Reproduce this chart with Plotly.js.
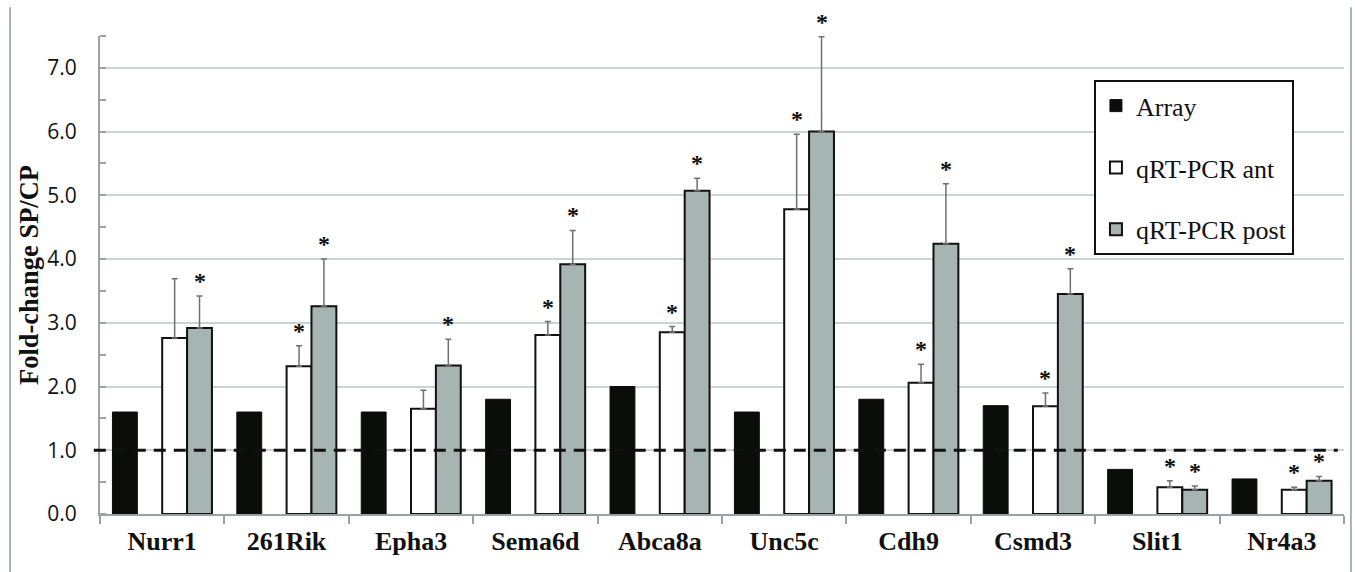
<!DOCTYPE html>
<html>
<head>
<meta charset="utf-8">
<script src="https://cdn.plot.ly/plotly-3.0.1.min.js"></script>
<style>html,body{margin:0;padding:0;background:#fff;}#chart{width:1355px;height:572px;}</style>
</head>
<body>
<div id="chart"></div>
<script>
const genes = ["Nurr1","261Rik","Epha3","Sema6d","Abca8a","Unc5c","Cdh9","Csmd3","Slit1","Nr4a3"];
const arrayVals = [1.60,1.60,1.60,1.80,2.00,1.60,1.80,1.70,0.70,0.55];
const antVals   = [2.76,2.32,1.65,2.81,2.85,4.78,2.06,1.69,0.42,0.38];
const antErr    = [0.93,0.32,0.29,0.21,0.09,1.18,0.29,0.21,0.10,0.04];
const postVals  = [2.92,3.26,2.33,3.92,5.07,6.00,4.24,3.45,0.38,0.52];
const postErr   = [0.50,0.74,0.41,0.53,0.20,1.49,0.94,0.40,0.06,0.07];
const antSig    = [0,1,0,1,1,1,1,1,1,1];
const postSig   = [1,1,1,1,1,1,1,1,1,1];
const seriesNames = ["Array","qRT-PCR ant","qRT-PCR post"];

const SERIF = 'Liberation Serif, Times New Roman, serif';
const W = 0.2;
const errStyle = {type:'data', symmetric:false, color:'#707070', thickness:1.5, width:3};
const zeros = genes.map(()=>0);

const traces = [
  {type:'bar', name:seriesNames[0], x:genes, y:arrayVals, offset:-0.4, width:W,
   marker:{color:'#0b0d0b', line:{color:'#0b0d0b', width:1}}, legendgroup:'a'},
  {type:'bar', name:seriesNames[1], x:genes, y:antVals, offset:0.0, width:W,
   marker:{color:'#ffffff', line:{color:'#111111', width:2}}, legendgroup:'b',
   error_y:Object.assign({array:antErr, arrayminus:zeros}, errStyle)},
  {type:'bar', name:seriesNames[2], x:genes, y:postVals, offset:0.2, width:W,
   marker:{color:'#a6b4b2', line:{color:'#111111', width:2}}, legendgroup:'c',
   error_y:Object.assign({array:postErr, arrayminus:zeros}, errStyle)}
];

const starFont = {family:SERIF, size:24, color:'#111', weight:'bold'};
const annotations = [];
genes.forEach((g,i)=>{
  if (antSig[i]) annotations.push({x:i+0.1, y:antVals[i]+antErr[i], xref:'x', yref:'y', text:'*', showarrow:false,
    yanchor:'bottom', yshift:0, font:starFont});
  if (postSig[i]) annotations.push({x:i+0.3, y:postVals[i]+postErr[i], xref:'x', yref:'y', text:'*', showarrow:false,
    yanchor:'bottom', yshift:0, font:starFont});
});

const shapes = [
  {type:'line', xref:'paper', yref:'y', x0:-0.005, x1:0.995, y0:1, y1:1, layer:'above',
   line:{color:'#111', width:3, dash:'12px,8px'}},
  {type:'line', xref:'paper', yref:'paper', x0:-0.0723, x1:-0.0723, y0:1.06, y1:-0.13,
   line:{color:'#8f9a9a', width:1.5}},
  {type:'line', xref:'paper', yref:'paper', x0:1.0056, x1:1.0056, y0:1.06, y1:-0.13,
   line:{color:'#8f9a9a', width:1.5}}
];

const layout = {
  width:1355, height:572,
  margin:{l:100, r:11, t:36, b:58},
  paper_bgcolor:'#fff', plot_bgcolor:'#fff',
  barmode:'overlay',
  showlegend:true,
  legend:{x:0.799, y:0.9075, xanchor:'left', yanchor:'top', bgcolor:'#fff',
    bordercolor:'#111', borderwidth:2, tracegroupgap:25, entrywidth:205,
    font:{family:SERIF, size:26, color:'#111'}},
  xaxis:{type:'category', showline:true, linecolor:'#98a4a4', linewidth:2,
    ticks:'outside', tickson:'boundaries', ticklen:8, tickcolor:'#98a4a4', tickwidth:2,
    showgrid:false, range:[-0.5, 9.5], ticklabelstandoff:3,
    tickfont:{family:SERIF, size:26, color:'#111', weight:'bold'}},
  yaxis:{range:[0,7.5], dtick:1, tick0:0, tickformat:'.1f',
    showline:true, linecolor:'#98a4a4', linewidth:2,
    ticks:'outside', ticklen:17, tickcolor:'rgba(0,0,0,0)', tickwidth:1,
    minor:{dtick:0.5, ticks:'inside', ticklen:6, tickcolor:'#98a4a4', tickwidth:2, showgrid:false},
    showgrid:true, gridcolor:'#c9d4d3', gridwidth:2, zeroline:false,
    tickfont:{family:'Open Sans, sans-serif', size:21, color:'#111'},
    title:{text:'Fold-change SP/CP', standoff:1,
      font:{family:SERIF, size:26.5, color:'#111', weight:'bold'}}},
  annotations:annotations,
  shapes:shapes
};

Plotly.newPlot('chart', traces, layout, {displayModeBar:false, staticPlot:true});
</script>
</body>
</html>
